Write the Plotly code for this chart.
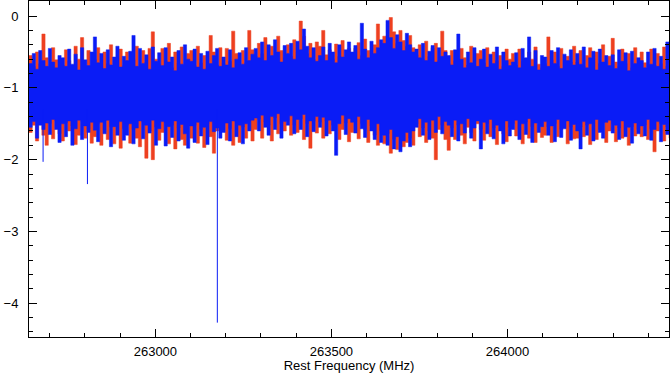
import numpy as np
import plotly.graph_objects as go

# channel grid (MHz)
CHAN_START = 262641.0
CHAN_STOP = 264459.0
N_CHAN = 200

# Estimated per-channel extremes
blue_upper = [
    -0.66,-0.52,-0.74,-0.48,-0.62,-0.70,-0.45,-0.64,-0.72,-0.55,
    -0.58,-0.70,-0.46,-0.67,-0.53,-0.75,-0.44,-0.61,-0.69,-0.50,
    -0.29,-0.65,-0.52,-0.73,-0.47,-0.68,-0.57,-0.42,-0.71,-0.56,
    -0.62,-0.49,-0.27,-0.70,-0.45,-0.66,-0.54,-0.74,-0.43,-0.63,
    -0.51,-0.69,-0.44,-0.64,-0.57,-0.76,-0.48,-0.67,-0.40,-0.60,
    -0.63,-0.46,-0.71,-0.52,-0.74,-0.49,-0.66,-0.55,-0.45,-0.70,
    -0.57,-0.68,-0.47,-0.72,-0.60,-0.51,-0.67,-0.44,-0.62,-0.53,
    -0.45,-0.58,-0.36,-0.62,-0.40,-0.55,-0.33,-0.50,-0.64,-0.41,
    -0.52,-0.38,-0.60,-0.35,-0.47,-0.18,-0.42,-0.58,-0.44,-0.63,
    -0.55,-0.43,-0.62,-0.38,-0.50,-0.65,-0.40,-0.57,-0.47,-0.36,
    -0.50,-0.41,-0.60,-0.10,-0.46,-0.58,-0.35,-0.52,-0.44,-0.33,
    -0.38,-0.06,-0.30,-0.45,-0.26,-0.36,-0.48,-0.24,-0.40,-0.50,
    -0.46,-0.58,-0.38,-0.62,-0.49,-0.41,-0.64,-0.44,-0.56,-0.50,
    -0.55,-0.68,-0.47,-0.25,-0.60,-0.72,-0.50,-0.65,-0.44,-0.70,
    -0.60,-0.46,-0.71,-0.53,-0.66,-0.43,-0.74,-0.50,-0.62,-0.69,
    -0.64,-0.51,-0.72,-0.45,-0.58,-0.29,-0.70,-0.48,-0.75,-0.55,
    -0.57,-0.70,-0.48,-0.66,-0.44,-0.73,-0.53,-0.62,-0.47,-0.68,
    -0.52,-0.67,-0.43,-0.72,-0.58,-0.49,-0.75,-0.46,-0.64,-0.55,
    -0.69,-0.54,-0.73,-0.47,-0.63,-0.51,-0.76,-0.49,-0.66,-0.58,
    -0.62,-0.72,-0.50,-0.67,-0.45,-0.70,-0.56,-0.74,-0.36,-0.64,
]
blue_lower = [
    -1.55,-1.47,-1.70,-1.52,-1.58,-1.49,-1.65,-1.44,-1.58,-1.76,
    -1.50,-1.68,-1.46,-1.80,-1.57,-1.45,-1.72,-1.53,-1.62,-1.48,
    -1.59,-1.75,-1.48,-1.64,-1.45,-1.82,-1.54,-1.66,-1.47,-1.73,
    -1.66,-1.50,-1.78,-1.56,-1.46,-1.71,-1.52,-1.63,-1.45,-1.80,
    -1.57,-1.47,-1.81,-1.54,-1.69,-1.46,-1.74,-1.51,-1.64,-1.84,
    -1.53,-1.76,-1.48,-1.67,-1.55,-1.79,-1.47,-1.61,-1.56,-1.70,
    -1.62,-1.49,-1.74,-1.46,-1.68,-1.52,-1.78,-1.50,-1.60,-1.45,
    -1.42,-1.60,-1.38,-1.55,-1.66,-1.40,-1.58,-1.36,-1.70,-1.47,
    -1.52,-1.39,-1.64,-1.44,-1.58,-1.37,-1.68,-1.46,-1.61,-1.40,
    -1.55,-1.41,-1.67,-1.45,-1.60,-1.94,-1.50,-1.38,-1.65,-1.43,
    -1.48,-1.63,-1.40,-1.57,-1.69,-1.44,-1.60,-1.72,-1.50,-1.76,
    -1.66,-1.80,-1.58,-1.85,-1.68,-1.89,-1.74,-1.62,-1.82,-1.60,
    -1.55,-1.43,-1.66,-1.48,-1.72,-1.45,-1.62,-1.40,-1.64,-1.47,
    -1.52,-1.68,-1.45,-1.74,-1.50,-1.63,-1.43,-1.70,-1.56,-1.46,
    -1.85,-1.48,-1.64,-1.44,-1.71,-1.52,-1.60,-1.78,-1.46,-1.67,
    -1.58,-1.45,-1.72,-1.50,-1.65,-1.43,-1.76,-1.49,-1.62,-1.54,
    -1.47,-1.66,-1.53,-1.75,-1.44,-1.69,-1.57,-1.46,-1.73,-1.51,
    -1.60,-1.85,-1.47,-1.66,-1.50,-1.74,-1.44,-1.62,-1.70,-1.48,
    -1.45,-1.63,-1.52,-1.72,-1.46,-1.68,-1.55,-1.77,-1.49,-1.64,
    -1.53,-1.67,-1.44,-1.73,-1.58,-1.47,-1.75,-1.51,-1.65,-1.49,
]
red_upper = [
    -0.55,-0.70,-0.50,-0.66,-0.25,-0.58,-0.72,-0.44,-0.61,-0.74,
    -0.68,-0.47,-0.62,-0.76,-0.42,-0.60,-0.30,-0.70,-0.48,-0.73,
    -0.60,-0.44,-0.71,-0.50,-0.66,-0.40,-0.74,-0.58,-0.46,-0.69,
    -0.50,-0.68,-0.61,-0.42,-0.73,-0.48,-0.64,-0.45,-0.22,-0.60,
    -0.67,-0.45,-0.62,-0.38,-0.72,-0.50,-0.66,-0.43,-0.70,-0.52,
    -0.48,-0.69,-0.42,-0.65,-0.55,-0.72,-0.27,-0.50,-0.68,-0.44,
    -0.66,-0.45,-0.63,-0.21,-0.52,-0.72,-0.48,-0.65,-0.20,-0.47,
    -0.56,-0.38,-0.52,-0.30,-0.60,-0.42,-0.55,-0.28,-0.48,-0.58,
    -0.40,-0.56,-0.33,-0.50,-0.07,-0.28,-0.52,-0.38,-0.60,-0.36,
    -0.42,-0.20,-0.54,-0.47,-0.60,-0.39,-0.56,-0.34,-0.62,-0.45,
    -0.58,-0.45,-0.37,-0.55,-0.32,-0.48,-0.60,-0.40,-0.11,-0.47,
    -0.28,-0.40,-0.02,-0.22,-0.38,-0.20,-0.34,-0.42,-0.27,-0.44,
    -0.54,-0.40,-0.60,-0.35,-0.56,-0.44,-0.38,-0.62,-0.21,-0.48,
    -0.66,-0.48,-0.62,-0.70,-0.45,-0.58,-0.68,-0.42,-0.73,-0.52,
    -0.48,-0.65,-0.44,-0.72,-0.50,-0.62,-0.55,-0.70,-0.46,-0.60,
    -0.52,-0.68,-0.46,-0.63,-0.74,-0.50,-0.60,-0.43,-0.67,-0.72,
    -0.66,-0.29,-0.61,-0.50,-0.70,-0.45,-0.72,-0.56,-0.64,-0.42,
    -0.64,-0.48,-0.70,-0.55,-0.44,-0.68,-0.50,-0.66,-0.40,-0.73,
    -0.56,-0.31,-0.64,-0.70,-0.46,-0.66,-0.52,-0.72,-0.44,-0.68,
    -0.50,-0.65,-0.74,-0.46,-0.68,-0.52,-0.66,-0.43,-0.70,-0.58,
]
red_lower = [
    -1.62,-1.52,-1.74,-1.48,-1.66,-1.80,-1.50,-1.71,-1.46,-1.64,
    -1.74,-1.49,-1.60,-1.53,-1.79,-1.66,-1.47,-1.70,-1.58,-1.77,
    -1.68,-1.50,-1.80,-1.46,-1.72,-1.55,-1.78,-1.49,-1.84,-1.57,
    -1.52,-1.77,-1.58,-1.70,-1.82,-1.48,-1.98,-1.60,-2.00,-1.55,
    -1.73,-1.62,-1.49,-1.78,-1.52,-1.85,-1.56,-1.72,-1.80,-1.50,
    -1.70,-1.52,-1.77,-1.58,-1.83,-1.50,-1.68,-1.91,-1.60,-1.54,
    -1.50,-1.73,-1.57,-1.80,-1.48,-1.76,-1.55,-1.70,-1.47,-1.74,
    -1.58,-1.44,-1.70,-1.48,-1.52,-1.74,-1.42,-1.64,-1.50,-1.60,
    -1.45,-1.66,-1.52,-1.62,-1.43,-1.72,-1.50,-1.84,-1.47,-1.63,
    -1.48,-1.70,-1.46,-1.64,-1.52,-1.44,-1.72,-1.58,-1.49,-1.75,
    -1.62,-1.47,-1.71,-1.50,-1.58,-1.76,-1.53,-1.66,-1.80,-1.60,
    -1.78,-1.64,-1.91,-1.72,-1.86,-1.66,-1.82,-1.76,-1.70,-1.80,
    -1.50,-1.68,-1.56,-1.76,-1.60,-1.70,-2.00,-1.58,-1.52,-1.72,
    -1.87,-1.56,-1.72,-1.52,-1.66,-1.78,-1.55,-1.62,-1.74,-1.50,
    -1.58,-1.73,-1.50,-1.68,-1.56,-1.79,-1.52,-1.64,-1.75,-1.55,
    -1.50,-1.67,-1.58,-1.78,-1.48,-1.70,-1.54,-1.76,-1.47,-1.69,
    -1.66,-1.54,-1.76,-1.50,-1.68,-1.58,-1.48,-1.78,-1.55,-1.71,
    -1.70,-1.55,-1.68,-1.52,-1.79,-1.50,-1.72,-1.58,-1.49,-1.76,
    -1.60,-1.50,-1.75,-1.56,-1.70,-1.48,-1.80,-1.54,-1.67,-1.58,
    -1.68,-1.52,-1.72,-1.57,-1.89,-1.60,-1.50,-1.74,-1.55,-1.70,
]

# single-channel deep spikes of the blue spectrum
blue_spike_freq = [262681, 262807, 263176]
blue_spike_min = [-2.03, -2.34, -4.27]

x_ticks = [263000, 263500, 264000]
x_tick_labels = ["263000", "263500", "264000"]
y_ticks = [0, -1, -2, -3, -4]
y_tick_labels = ["0", "\u22121", "\u22122", "\u22123", "\u22124"]

BLUE = "#0a1cf6"
RED = "#ee4020"

freq = np.linspace(CHAN_START, CHAN_STOP, N_CHAN)

fig = go.Figure()
for lo, hi, col in [(red_lower, red_upper, RED), (blue_lower, blue_upper, BLUE)]:
    fig.add_trace(go.Scatter(x=freq, y=lo, mode="lines",
                             line=dict(color=col, width=0.5, shape="hv"),
                             hoverinfo="skip", showlegend=False))
    fig.add_trace(go.Scatter(x=freq, y=hi, mode="lines", fill="tonexty",
                             fillcolor=col,
                             line=dict(color=col, width=0.5, shape="hv"),
                             hoverinfo="skip", showlegend=False))

sx, sy = [], []
for f, m in zip(blue_spike_freq, blue_spike_min):
    sx += [f, f, None]
    sy += [-1.3, m, None]
fig.add_trace(go.Scatter(x=sx, y=sy, mode="lines", line=dict(color=BLUE, width=1),
                         hoverinfo="skip", showlegend=False))

font = dict(family="Liberation Sans, Arial, sans-serif", size=13, color="black")
axis_common = dict(showline=True, linecolor="black", linewidth=1, mirror="allticks",
                   ticks="inside", tickcolor="black", tickwidth=1, ticklen=8,
                   showgrid=False, zeroline=False, tickfont=font)

fig.update_layout(
    width=671, height=373,
    margin=dict(l=29, r=2, t=1, b=36),
    paper_bgcolor="white", plot_bgcolor="white",
    xaxis=dict(range=[CHAN_START, CHAN_STOP], tickvals=x_ticks, ticktext=x_tick_labels,
               ticklabelstandoff=2,
               minor=dict(dtick=100, tick0=262000, ticklen=4, ticks="inside",
                          tickcolor="black", showgrid=False),
               title=dict(text="Rest Frequency (MHz)", font=font, standoff=2),
               **axis_common),
    yaxis=dict(range=[-4.47, 0.21], tickvals=y_ticks, ticktext=y_tick_labels,
               ticklabelstandoff=7,
               minor=dict(dtick=0.2, tick0=0, ticklen=4, ticks="inside",
                          tickcolor="black", showgrid=False),
               **axis_common),
)

fig.write_html("out.html", config={"displayModeBar": False},
               post_script="document.body.style.margin='0';")
